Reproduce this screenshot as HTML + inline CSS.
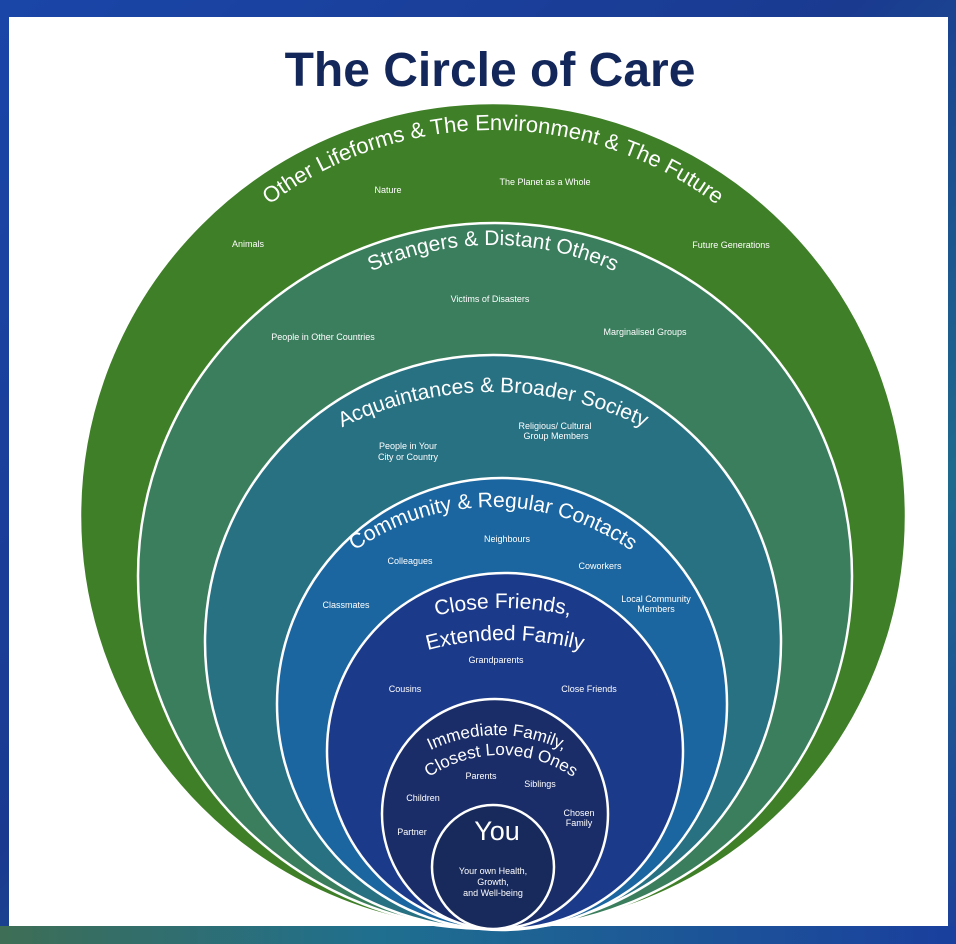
<!DOCTYPE html>
<html><head><meta charset="utf-8"><style>
html,body{margin:0;padding:0}
body{width:956px;height:944px;overflow:hidden}
svg{display:block}
text{font-family:"Liberation Sans",sans-serif;fill:#fff}
</style></head><body>
<svg width="956" height="944" viewBox="0 0 956 944">
<defs>
<linearGradient id="bg" x1="0" y1="0" x2="1" y2="1">
<stop offset="0" stop-color="#1a46a8"/><stop offset="0.45" stop-color="#1a3a90"/><stop offset="0.75" stop-color="#1e6a8e"/><stop offset="1" stop-color="#1d3f9a"/></linearGradient>
<linearGradient id="bb" x1="0" y1="0" x2="1" y2="0">
<stop offset="0" stop-color="#3e6e55"/><stop offset="0.4" stop-color="#1f6f90"/><stop offset="1" stop-color="#1a3f9e"/></linearGradient>
<path id="a1" d="M121,502 A372,372 0 0 1 865,502"/>
<path id="a2" d="M200,538 A293,293 0 0 1 786,538"/>
<path id="a3" d="M154,731 A339,339 0 0 1 832,731"/>
<path id="a4" d="M253,747 A240,240 0 0 1 733,747"/>
<path id="a5a" d="M203,908 A300,300 0 0 1 803,908"/>
<path id="a5b" d="M205,940 A300,300 0 0 1 805,940"/>
<path id="a6a" d="M344,888 A153,153 0 0 1 650,888"/>
<path id="a6b" d="M373,883 A128,128 0 0 1 629,883"/>
</defs>
<rect width="956" height="944" fill="url(#bg)"/>
<rect x="0" y="926" width="956" height="18" fill="url(#bb)"/>
<rect x="9" y="17" width="939" height="909" fill="#fff"/>
<text x="490" y="86" text-anchor="middle" style="font-size:48px;font-weight:bold;fill:#14275a">The Circle of Care</text>
<g stroke="#fff" stroke-width="2.5">
<ellipse cx="493" cy="516" rx="413" ry="413" fill="#3f7f27"/>
<ellipse cx="495" cy="576" rx="357" ry="353" fill="#3b7e5e"/>
<ellipse cx="493" cy="642" rx="288" ry="287" fill="#277183"/>
<ellipse cx="502" cy="704" rx="225" ry="226" fill="#1b66a0"/>
<ellipse cx="505" cy="751" rx="178" ry="178" fill="#1c3a8a"/>
<ellipse cx="495" cy="814" rx="113" ry="115" fill="#1b2d68"/>
<ellipse cx="493" cy="867" rx="61" ry="62" fill="#182a5c"/>
</g>
<g style="font-size:22px">
<text><textPath href="#a1" startOffset="50%" text-anchor="middle">Other Lifeforms &amp; The Environment &amp; The  Future</textPath></text>
</g>
<g style="font-size:21px">
<text><textPath href="#a2" startOffset="50%" text-anchor="middle">Strangers &amp; Distant Others</textPath></text>
<text><textPath href="#a3" startOffset="50%" text-anchor="middle">Acquaintances &amp; Broader Society</textPath></text>
<text><textPath href="#a4" startOffset="50%" text-anchor="middle">Community &amp; Regular Contacts</textPath></text>
<text><textPath href="#a5a" startOffset="50%" text-anchor="middle">Close Friends,</textPath></text>
<text><textPath href="#a5b" startOffset="50%" text-anchor="middle">Extended Family</textPath></text>
</g>
<g style="font-size:17px">
<text><textPath href="#a6a" startOffset="50%" text-anchor="middle">Immediate Family,</textPath></text>
<text><textPath href="#a6b" startOffset="50%" text-anchor="middle">Closest Loved Ones</textPath></text>
</g>
<text x="497" y="840" text-anchor="middle" style="font-size:27px">You</text>
<g style="font-size:9px" text-anchor="middle">
<text x="388" y="193">Nature</text>
<text x="545" y="185">The Planet as a Whole</text>
<text x="248" y="247">Animals</text>
<text x="731" y="248">Future Generations</text>
<text x="490" y="302">Victims of Disasters</text>
<text x="323" y="340">People in Other Countries</text>
<text x="645" y="335">Marginalised Groups</text>
<text x="555" y="429">Religious/ Cultural</text>
<text x="556" y="439">Group Members</text>
<text x="408" y="449">People in Your</text>
<text x="408" y="460">City or Country</text>
<text x="507" y="542">Neighbours</text>
<text x="410" y="564">Colleagues</text>
<text x="600" y="569">Coworkers</text>
<text x="346" y="608">Classmates</text>
<text x="656" y="602">Local Community</text>
<text x="656" y="612">Members</text>
<text x="496" y="663">Grandparents</text>
<text x="405" y="692">Cousins</text>
<text x="589" y="692">Close Friends</text>
<text x="481" y="779">Parents</text>
<text x="540" y="787">Siblings</text>
<text x="423" y="801">Children</text>
<text x="579" y="816">Chosen</text>
<text x="579" y="826">Family</text>
<text x="412" y="835">Partner</text>
<text x="493" y="874">Your own Health,</text>
<text x="493" y="885">Growth,</text>
<text x="493" y="896">and Well-being</text>
</g>
</svg>
</body></html>
